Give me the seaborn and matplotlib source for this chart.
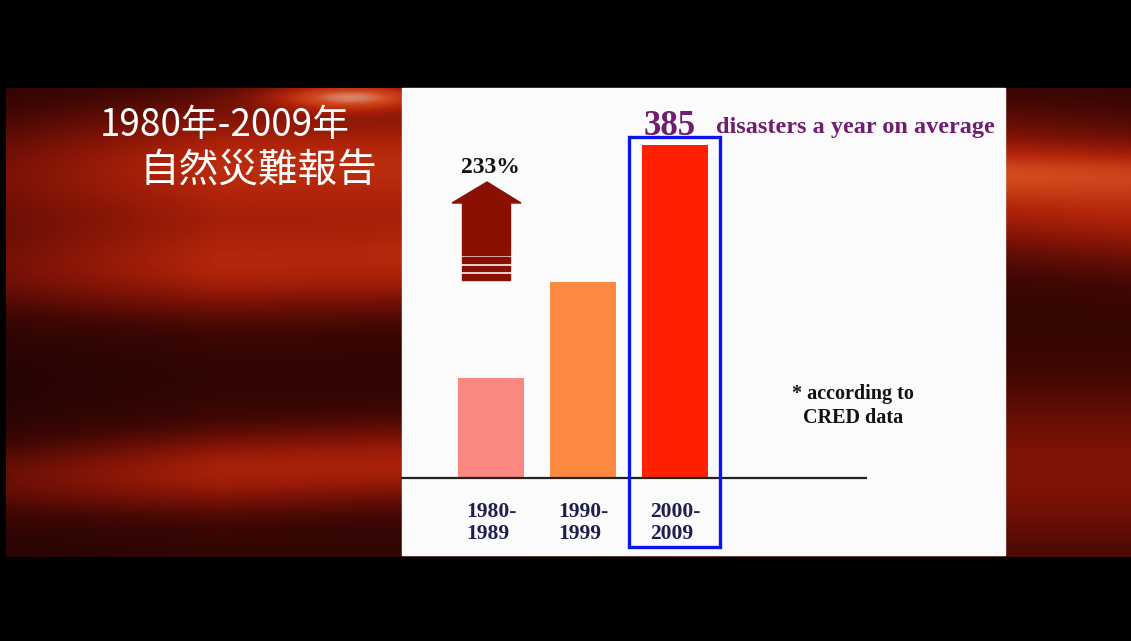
import numpy as np
import seaborn as sns
from matplotlib import pyplot as plt
from matplotlib.colors import LinearSegmentedColormap
from matplotlib.patches import Rectangle, Polygon

# data
periods = ["1980-1989", "1990-1999", "2000-2009"]
tick_labels = ["1980-\n1989", "1990-\n1999", "2000-\n2009"]
counts = [116, 227, 385]
bar_colors = ["#FA8880", "#FB8A40", "#FE2000"]
increase_pct = 233
title_lines = ["1980年-2009年", "自然災難報告"]
headline_suffix = "disasters a year on average"
source_note = "* according to\nCRED data"

W, H = 1131, 641
SERIF = "Liberation Serif"
CJK = ["Noto Sans CJK TC", "DejaVu Sans"]

sns.set_style("white")
plt.rcParams["font.family"] = ["DejaVu Sans"]


def swirl_background(x0, x1, y0, y1):
    # smooth red "silk" bands behind the slide
    xx, yy = np.meshgrid(np.arange(x0, x1), np.arange(y0, y1))
    xx = xx.astype(float)
    yy = yy.astype(float)

    def band(center, sigma, weight):
        return weight * np.exp(-((yy - center) / sigma) ** 2)

    left = np.clip((700 - xx) / 200, 0, 1)
    right = 1 - left
    inten = 0.14 + 0 * xx
    inten += band(165 + 0.00006 * (xx - 400) ** 2, 65, 0.5)
    inten += band(272 - 0.02 * xx, 48, 0.42) * left
    inten += band(478 - 0.035 * xx, 40, 0.42) * left
    inten += band(172 + 0 * xx, 22, 0.18) * right
    inten += band(470 + 0 * xx, 85, 0.28) * right
    inten += 0.6 * np.exp(-((xx - 350) / 80) ** 2 - ((yy - 96) / 14) ** 2)
    fade = 0.6 + 0.4 * np.clip(xx / 220, 0, 1)
    return np.clip(inten * fade, 0, 1)


red_cmap = LinearSegmentedColormap.from_list(
    "silk", ["#160302", "#3e0704", "#7c1206", "#b2240a", "#d24a1e", "#dcb8b0"])

fig = plt.figure(figsize=(W / 100, H / 100), dpi=100, facecolor="black")

# full-figure layer in pixel coordinates for the slide decoration
bg = fig.add_axes([0, 0, 1, 1], zorder=0)
bg.set_xlim(0, W)
bg.set_ylim(H, 0)
bg.axis("off")
bg.imshow(swirl_background(6, W, 88, 557), cmap=red_cmap, vmin=0, vmax=1,
          extent=(6, W, 557, 88), aspect="auto", interpolation="bilinear")
bg.add_patch(Rectangle((402, 88), 603, 467, color="#FBFBFB", zorder=2))

bg.text(100, 136, title_lines[0], color="white", fontsize=26.5, family=CJK,
        ha="left", va="baseline", zorder=3)
bg.text(139, 182, title_lines[1], color="white", fontsize=28.5, family=CJK,
        ha="left", va="baseline", zorder=3)

# growth arrow
arrow_red = "#8A1004"
bg.add_patch(Polygon([(452, 203), (487, 182), (521, 203)], closed=True,
                     color=arrow_red, zorder=3))
bg.add_patch(Rectangle((462, 202), 48, 53, color=arrow_red, zorder=3))
for top, hgt in [(257, 6), (266, 5), (274, 6)]:
    bg.add_patch(Rectangle((462, top), 48, hgt, color=arrow_red, zorder=3))
bg.text(490, 173, f"{increase_pct}%", fontsize=17, family=SERIF,
        weight="bold", color="#111111", ha="center", va="baseline", zorder=3)

purple = "#6E1E6E"
bg.text(644, 135, f"{counts[-1]}", fontsize=25, family=SERIF, weight="bold",
        color=purple, ha="left", va="baseline", zorder=3)
bg.text(716, 133, headline_suffix, fontsize=17.5, family=SERIF, weight="bold",
        color=purple, ha="left", va="baseline", zorder=3)
bg.text(853, 423, source_note, fontsize=14.5, family=SERIF, weight="bold",
        color="#111111", ha="center", va="baseline", multialignment="center",
        linespacing=1.25, zorder=3)

# bar chart axes: bottom spine is the baseline of the slide
ax = fig.add_axes([402 / W, (H - 478) / H, (866 - 402) / W, (478 - 88) / H],
                  zorder=2)
ax.set_facecolor("none")
sns.barplot(x=periods, y=counts, hue=periods, palette=bar_colors,
            saturation=1, width=0.72, legend=False, ax=ax, linewidth=0)
ax.set_xlim(-0.967, 4.076)
ax.set_ylim(0, 451)
sns.despine(ax=ax, left=True)
ax.spines["bottom"].set_color("#222222")
ax.spines["bottom"].set_linewidth(1.6)
ax.set_yticks([])
ax.set_xlabel("")
ax.set_ylabel("")
ax.set_xticks(range(len(periods)))
ax.set_xticklabels(tick_labels, family=SERIF, weight="bold", fontsize=15.5,
                   color="#1E1E50", multialignment="left", linespacing=1.18)
ax.tick_params(axis="x", length=0, pad=17)

# highlight box around the latest decade
ax.add_patch(Rectangle((1.5, -80), 0.99, 474, fill=False, edgecolor="#0A14F0",
                       linewidth=2.4, clip_on=False, zorder=4))

fig.savefig("out.png", dpi=100, facecolor="black")
